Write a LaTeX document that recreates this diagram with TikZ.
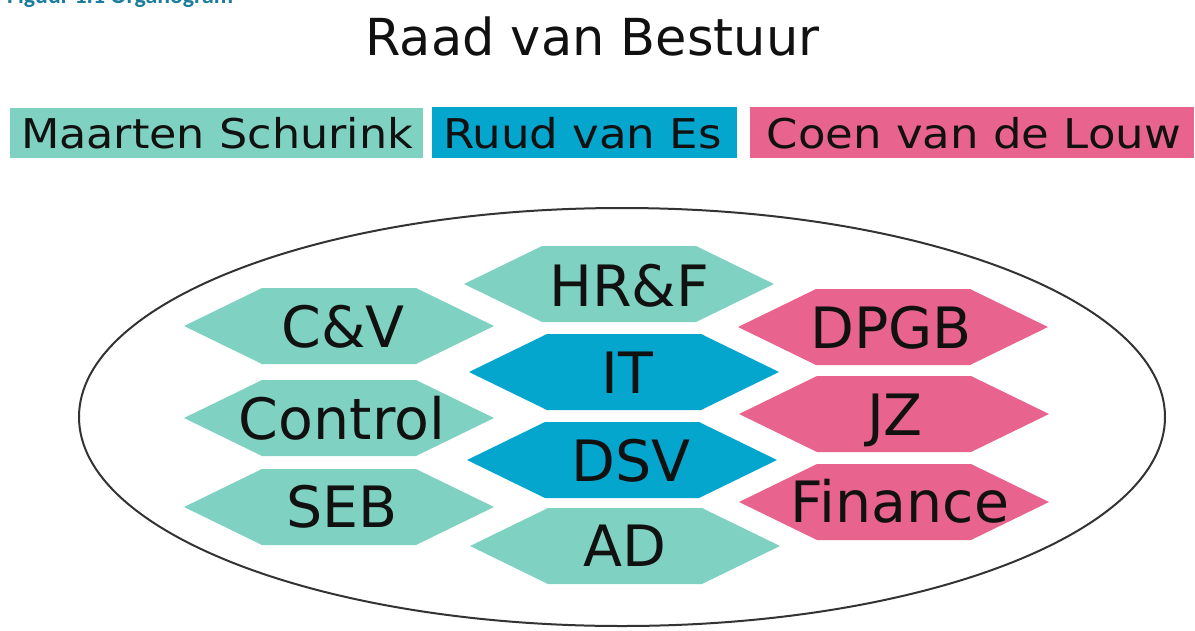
\documentclass[tikz,border=0pt]{standalone}
\usepackage{fontspec}
\setmainfont{DejaVu Sans}
\newfontfamily\capfont{Carlito}
\definecolor{tealc}{HTML}{7FD2C2}
\definecolor{bluec}{HTML}{04A6CE}
\definecolor{pinkc}{HTML}{E9638F}
\definecolor{capc}{HTML}{1C7C9C}
\definecolor{txtc}{HTML}{111111}
\newcommand\hexpath[3]{%
  \fill[#3] ({#1-155},{#2}) -- ({#1-77},{#2-38}) -- ({#1+77},{#2-38}) -- ({#1+155},{#2}) -- ({#1+77},{#2+38}) -- ({#1-77},{#2+38}) -- cycle;}
\begin{document}
\begin{tikzpicture}[x=1pt,y=-1pt,
  boxtxt/.style={font=\fontsize{41}{41}\selectfont, text=txtc, inner sep=0pt, text height=29.5pt, text depth=0pt},
  hextxt/.style={font=\fontsize{57}{57}\selectfont, text=txtc, inner sep=0pt, text height=41.5pt, text depth=0pt}]
\useasboundingbox (0,0) rectangle (1195,630);
\begin{scope}
\clip (0,0) rectangle (1195,630);
% caption (cut off at the top, as in the reference)
\node[anchor=base west, inner sep=0pt, text=capc] (cap) at (7,3.5) {\resizebox{226pt}{!}{\capfont\bfseries Figuur 1.1 Organogram}};
% title
\node[anchor=base, inner sep=0pt, font=\fontsize{51}{51}\selectfont, text=txtc] (title) at (592.5,55) {Raad van Bestuur};
% name boxes
\fill[tealc] (10,108) rectangle (423,158);
\fill[bluec] (432,107) rectangle (737,158);
\fill[pinkc] (750,107) rectangle (1194,158);
\node[boxtxt] (ms) at (217,134) {\resizebox{392pt}{\height}{Maarten Schurink}};
\node[boxtxt] (rve) at (582.5,134) {\resizebox{279pt}{\height}{Ruud van Es}};
\node[boxtxt] (cvdl) at (974,134) {\resizebox{414pt}{\height}{Coen van de Louw}};
% ellipse
\draw[line width=2pt, draw=black!80] (622,417) ellipse [x radius=543, y radius=209];
% hexagons
\hexpath{339}{326}{tealc}
\hexpath{339}{418}{tealc}
\hexpath{339}{507}{tealc}
\hexpath{619}{284}{tealc}
\hexpath{624}{372}{bluec}
\hexpath{622}{460}{bluec}
\hexpath{625}{546}{tealc}
\hexpath{893}{327}{pinkc}
\hexpath{894}{414}{pinkc}
\hexpath{894}{502}{pinkc}
\node[hextxt] (cv) at (343,326.5) {C\&V};
\node[hextxt] (control) at (342,418.5) {Control};
\node[hextxt] (seb) at (342,507) {SEB};
\node[hextxt] (hrf) at (629,285.5) {HR\&F};
\node[hextxt] (it) at (627,373) {IT};
\node[hextxt] (dsv) at (631,461) {DSV};
\node[hextxt] (ad) at (625,546) {AD};
\node[hextxt] (dpgb) at (891,328) {DPGB};
\node[hextxt] (jz) at (895,415) {JZ};
\node[hextxt] (fin) at (900,502) {Finance};
\end{scope}
\end{tikzpicture}
\end{document}
